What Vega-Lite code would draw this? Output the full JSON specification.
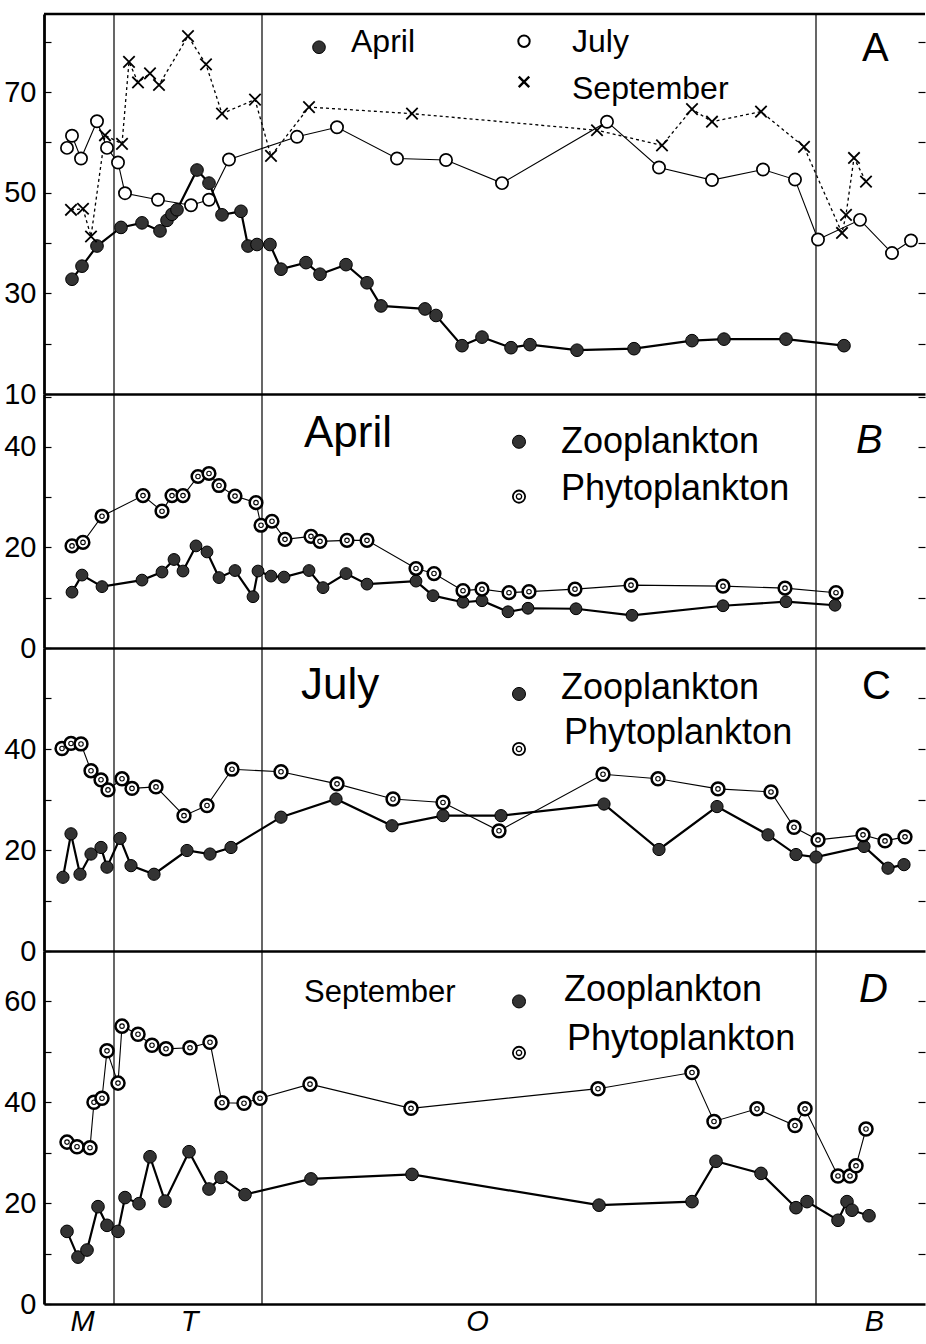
{
  "$schema": "https://vega.github.io/schema/vega-lite/v6.json",
  "background": "white",
  "padding": {"left": 3, "top": 12, "right": 0, "bottom": 0},
  "spacing": 0,
  "bounds": "flush",
  "config": {
    "view": {"stroke": null},
    "axisLeft": {"domain": true, "domainColor": "black", "domainWidth": 2.8, "ticks": true, "tickColor": "black", "tickWidth": 1.2, "tickSize": -7, "labelFont": "Liberation Sans", "labelFontSize": 29, "labelColor": "black", "labelPadding": 15, "labelOverlap": false, "labelBound": false, "labelFlush": false, "grid": false},
    "axisRight": {"domain": false, "ticks": true, "tickColor": "black", "tickWidth": 1.2, "tickSize": -7, "labels": false, "grid": false},
    "axisBottom": {"domain": true, "domainColor": "black", "domainWidth": 2.5, "ticks": false, "labels": false, "grid": false}
  },
  "datasets": {
    "vl": [{"x": 70}, {"x": 218}, {"x": 772}],
    "one": [{}],
    "pts": [
      {"p": "A", "s": "April", "x": 28, "v": 32.8}, {"p": "A", "s": "April", "x": 38, "v": 35.4}, {"p": "A", "s": "April", "x": 53, "v": 39.4}, {"p": "A", "s": "April", "x": 77, "v": 43.1}, {"p": "A", "s": "April", "x": 98, "v": 44.0}, {"p": "A", "s": "April", "x": 116, "v": 42.4}, {"p": "A", "s": "April", "x": 123, "v": 44.5}, {"p": "A", "s": "April", "x": 128, "v": 45.7}, {"p": "A", "s": "April", "x": 133, "v": 46.6}, {"p": "A", "s": "April", "x": 153, "v": 54.5}, {"p": "A", "s": "April", "x": 165, "v": 51.9}, {"p": "A", "s": "April", "x": 178, "v": 45.6}, {"p": "A", "s": "April", "x": 197, "v": 46.3}, {"p": "A", "s": "April", "x": 204, "v": 39.4}, {"p": "A", "s": "April", "x": 213, "v": 39.7}, {"p": "A", "s": "April", "x": 226, "v": 39.7}, {"p": "A", "s": "April", "x": 237, "v": 34.8}, {"p": "A", "s": "April", "x": 262, "v": 36.1}, {"p": "A", "s": "April", "x": 276, "v": 33.8}, {"p": "A", "s": "April", "x": 302, "v": 35.7}, {"p": "A", "s": "April", "x": 323, "v": 32.1}, {"p": "A", "s": "April", "x": 337, "v": 27.5}, {"p": "A", "s": "April", "x": 381, "v": 26.9}, {"p": "A", "s": "April", "x": 392, "v": 25.6}, {"p": "A", "s": "April", "x": 418, "v": 19.6}, {"p": "A", "s": "April", "x": 438, "v": 21.3}, {"p": "A", "s": "April", "x": 467, "v": 19.2}, {"p": "A", "s": "April", "x": 486, "v": 19.8}, {"p": "A", "s": "April", "x": 533, "v": 18.7}, {"p": "A", "s": "April", "x": 590, "v": 19.0}, {"p": "A", "s": "April", "x": 648, "v": 20.6}, {"p": "A", "s": "April", "x": 680, "v": 20.9}, {"p": "A", "s": "April", "x": 742, "v": 20.9}, {"p": "A", "s": "April", "x": 800, "v": 19.6},
      {"p": "A", "s": "July", "x": 23, "v": 58.9}, {"p": "A", "s": "July", "x": 28, "v": 61.3}, {"p": "A", "s": "July", "x": 37, "v": 56.8}, {"p": "A", "s": "July", "x": 53, "v": 64.2}, {"p": "A", "s": "July", "x": 63, "v": 58.9}, {"p": "A", "s": "July", "x": 74, "v": 56.0}, {"p": "A", "s": "July", "x": 81, "v": 49.9}, {"p": "A", "s": "July", "x": 114, "v": 48.6}, {"p": "A", "s": "July", "x": 147, "v": 47.5}, {"p": "A", "s": "July", "x": 165, "v": 48.6}, {"p": "A", "s": "July", "x": 185, "v": 56.6}, {"p": "A", "s": "July", "x": 253, "v": 61.1}, {"p": "A", "s": "July", "x": 293, "v": 63.0}, {"p": "A", "s": "July", "x": 353, "v": 56.8}, {"p": "A", "s": "July", "x": 402, "v": 56.5}, {"p": "A", "s": "July", "x": 458, "v": 51.9}, {"p": "A", "s": "July", "x": 563, "v": 64.1}, {"p": "A", "s": "July", "x": 615, "v": 55.0}, {"p": "A", "s": "July", "x": 668, "v": 52.5}, {"p": "A", "s": "July", "x": 719, "v": 54.6}, {"p": "A", "s": "July", "x": 751, "v": 52.6}, {"p": "A", "s": "July", "x": 774, "v": 40.7}, {"p": "A", "s": "July", "x": 816, "v": 44.6}, {"p": "A", "s": "July", "x": 848, "v": 38.0}, {"p": "A", "s": "July", "x": 867, "v": 40.5},
      {"p": "A", "s": "September", "x": 27, "v": 46.6}, {"p": "A", "s": "September", "x": 39, "v": 46.8}, {"p": "A", "s": "September", "x": 47, "v": 41.3}, {"p": "A", "s": "September", "x": 61, "v": 61.4}, {"p": "A", "s": "September", "x": 78, "v": 59.7}, {"p": "A", "s": "September", "x": 85, "v": 76.0}, {"p": "A", "s": "September", "x": 94, "v": 71.9}, {"p": "A", "s": "September", "x": 106, "v": 73.7}, {"p": "A", "s": "September", "x": 115, "v": 71.4}, {"p": "A", "s": "September", "x": 144, "v": 81.1}, {"p": "A", "s": "September", "x": 162, "v": 75.5}, {"p": "A", "s": "September", "x": 178, "v": 65.7}, {"p": "A", "s": "September", "x": 211, "v": 68.5}, {"p": "A", "s": "September", "x": 227, "v": 57.3}, {"p": "A", "s": "September", "x": 265, "v": 67.0}, {"p": "A", "s": "September", "x": 368, "v": 65.7}, {"p": "A", "s": "September", "x": 553, "v": 62.4}, {"p": "A", "s": "September", "x": 618, "v": 59.4}, {"p": "A", "s": "September", "x": 648, "v": 66.6}, {"p": "A", "s": "September", "x": 668, "v": 64.1}, {"p": "A", "s": "September", "x": 717, "v": 66.1}, {"p": "A", "s": "September", "x": 760, "v": 59.1}, {"p": "A", "s": "September", "x": 798, "v": 42.0}, {"p": "A", "s": "September", "x": 802, "v": 45.6}, {"p": "A", "s": "September", "x": 810, "v": 56.9}, {"p": "A", "s": "September", "x": 822, "v": 52.2},
      {"p": "B", "s": "Phyto", "x": 28, "v": 20.3}, {"p": "B", "s": "Phyto", "x": 39, "v": 21.0}, {"p": "B", "s": "Phyto", "x": 58, "v": 26.2}, {"p": "B", "s": "Phyto", "x": 99, "v": 30.3}, {"p": "B", "s": "Phyto", "x": 118, "v": 27.2}, {"p": "B", "s": "Phyto", "x": 128, "v": 30.3}, {"p": "B", "s": "Phyto", "x": 139, "v": 30.3}, {"p": "B", "s": "Phyto", "x": 154, "v": 34.1}, {"p": "B", "s": "Phyto", "x": 165, "v": 34.7}, {"p": "B", "s": "Phyto", "x": 175, "v": 32.3}, {"p": "B", "s": "Phyto", "x": 191, "v": 30.2}, {"p": "B", "s": "Phyto", "x": 212, "v": 28.9}, {"p": "B", "s": "Phyto", "x": 217, "v": 24.4}, {"p": "B", "s": "Phyto", "x": 228, "v": 25.2}, {"p": "B", "s": "Phyto", "x": 241, "v": 21.6}, {"p": "B", "s": "Phyto", "x": 267, "v": 22.2}, {"p": "B", "s": "Phyto", "x": 276, "v": 21.2}, {"p": "B", "s": "Phyto", "x": 303, "v": 21.4}, {"p": "B", "s": "Phyto", "x": 323, "v": 21.4}, {"p": "B", "s": "Phyto", "x": 372, "v": 15.8}, {"p": "B", "s": "Phyto", "x": 390, "v": 14.8}, {"p": "B", "s": "Phyto", "x": 419, "v": 11.4}, {"p": "B", "s": "Phyto", "x": 438, "v": 11.7}, {"p": "B", "s": "Phyto", "x": 465, "v": 11.0}, {"p": "B", "s": "Phyto", "x": 485, "v": 11.2}, {"p": "B", "s": "Phyto", "x": 531, "v": 11.7}, {"p": "B", "s": "Phyto", "x": 587, "v": 12.5}, {"p": "B", "s": "Phyto", "x": 679, "v": 12.3}, {"p": "B", "s": "Phyto", "x": 741, "v": 11.9}, {"p": "B", "s": "Phyto", "x": 792, "v": 11.0},
      {"p": "B", "s": "Zoo", "x": 28, "v": 11.1}, {"p": "B", "s": "Zoo", "x": 38, "v": 14.5}, {"p": "B", "s": "Zoo", "x": 58, "v": 12.2}, {"p": "B", "s": "Zoo", "x": 98, "v": 13.5}, {"p": "B", "s": "Zoo", "x": 118, "v": 15.1}, {"p": "B", "s": "Zoo", "x": 130, "v": 17.6}, {"p": "B", "s": "Zoo", "x": 139, "v": 15.3}, {"p": "B", "s": "Zoo", "x": 152, "v": 20.3}, {"p": "B", "s": "Zoo", "x": 163, "v": 19.1}, {"p": "B", "s": "Zoo", "x": 175, "v": 14.0}, {"p": "B", "s": "Zoo", "x": 191, "v": 15.4}, {"p": "B", "s": "Zoo", "x": 209, "v": 10.2}, {"p": "B", "s": "Zoo", "x": 214, "v": 15.3}, {"p": "B", "s": "Zoo", "x": 227, "v": 14.3}, {"p": "B", "s": "Zoo", "x": 240, "v": 14.1}, {"p": "B", "s": "Zoo", "x": 265, "v": 15.4}, {"p": "B", "s": "Zoo", "x": 279, "v": 12.0}, {"p": "B", "s": "Zoo", "x": 302, "v": 14.8}, {"p": "B", "s": "Zoo", "x": 323, "v": 12.7}, {"p": "B", "s": "Zoo", "x": 372, "v": 13.3}, {"p": "B", "s": "Zoo", "x": 389, "v": 10.4}, {"p": "B", "s": "Zoo", "x": 419, "v": 9.1}, {"p": "B", "s": "Zoo", "x": 438, "v": 9.4}, {"p": "B", "s": "Zoo", "x": 464, "v": 7.2}, {"p": "B", "s": "Zoo", "x": 484, "v": 7.9}, {"p": "B", "s": "Zoo", "x": 532, "v": 7.8}, {"p": "B", "s": "Zoo", "x": 588, "v": 6.5}, {"p": "B", "s": "Zoo", "x": 679, "v": 8.4}, {"p": "B", "s": "Zoo", "x": 742, "v": 9.2}, {"p": "B", "s": "Zoo", "x": 791, "v": 8.5},
      {"p": "C", "s": "Phyto", "x": 18, "v": 40.1}, {"p": "C", "s": "Phyto", "x": 27, "v": 41.1}, {"p": "C", "s": "Phyto", "x": 37, "v": 41.0}, {"p": "C", "s": "Phyto", "x": 47, "v": 35.7}, {"p": "C", "s": "Phyto", "x": 57, "v": 33.9}, {"p": "C", "s": "Phyto", "x": 64, "v": 31.9}, {"p": "C", "s": "Phyto", "x": 78, "v": 34.1}, {"p": "C", "s": "Phyto", "x": 88, "v": 32.2}, {"p": "C", "s": "Phyto", "x": 112, "v": 32.5}, {"p": "C", "s": "Phyto", "x": 140, "v": 26.8}, {"p": "C", "s": "Phyto", "x": 163, "v": 28.8}, {"p": "C", "s": "Phyto", "x": 188, "v": 36.0}, {"p": "C", "s": "Phyto", "x": 237, "v": 35.5}, {"p": "C", "s": "Phyto", "x": 293, "v": 33.1}, {"p": "C", "s": "Phyto", "x": 349, "v": 30.1}, {"p": "C", "s": "Phyto", "x": 399, "v": 29.4}, {"p": "C", "s": "Phyto", "x": 455, "v": 23.8}, {"p": "C", "s": "Phyto", "x": 559, "v": 35.0}, {"p": "C", "s": "Phyto", "x": 614, "v": 34.1}, {"p": "C", "s": "Phyto", "x": 674, "v": 32.1}, {"p": "C", "s": "Phyto", "x": 727, "v": 31.5}, {"p": "C", "s": "Phyto", "x": 750, "v": 24.5}, {"p": "C", "s": "Phyto", "x": 774, "v": 22.0}, {"p": "C", "s": "Phyto", "x": 819, "v": 23.0}, {"p": "C", "s": "Phyto", "x": 841, "v": 21.8}, {"p": "C", "s": "Phyto", "x": 861, "v": 22.6},
      {"p": "C", "s": "Zoo", "x": 19, "v": 14.6}, {"p": "C", "s": "Zoo", "x": 27, "v": 23.2}, {"p": "C", "s": "Zoo", "x": 36, "v": 15.2}, {"p": "C", "s": "Zoo", "x": 47, "v": 19.2}, {"p": "C", "s": "Zoo", "x": 57, "v": 20.5}, {"p": "C", "s": "Zoo", "x": 63, "v": 16.6}, {"p": "C", "s": "Zoo", "x": 76, "v": 22.3}, {"p": "C", "s": "Zoo", "x": 87, "v": 16.9}, {"p": "C", "s": "Zoo", "x": 110, "v": 15.2}, {"p": "C", "s": "Zoo", "x": 143, "v": 19.9}, {"p": "C", "s": "Zoo", "x": 166, "v": 19.2}, {"p": "C", "s": "Zoo", "x": 187, "v": 20.5}, {"p": "C", "s": "Zoo", "x": 237, "v": 26.5}, {"p": "C", "s": "Zoo", "x": 292, "v": 30.1}, {"p": "C", "s": "Zoo", "x": 348, "v": 24.8}, {"p": "C", "s": "Zoo", "x": 399, "v": 26.8}, {"p": "C", "s": "Zoo", "x": 457, "v": 26.8}, {"p": "C", "s": "Zoo", "x": 560, "v": 29.1}, {"p": "C", "s": "Zoo", "x": 615, "v": 20.1}, {"p": "C", "s": "Zoo", "x": 673, "v": 28.6}, {"p": "C", "s": "Zoo", "x": 724, "v": 23.0}, {"p": "C", "s": "Zoo", "x": 752, "v": 19.1}, {"p": "C", "s": "Zoo", "x": 772, "v": 18.6}, {"p": "C", "s": "Zoo", "x": 820, "v": 20.7}, {"p": "C", "s": "Zoo", "x": 844, "v": 16.4}, {"p": "C", "s": "Zoo", "x": 860, "v": 17.1},
      {"p": "D", "s": "Phyto", "x": 23, "v": 32.1}, {"p": "D", "s": "Phyto", "x": 33, "v": 31.2}, {"p": "D", "s": "Phyto", "x": 46, "v": 31.0}, {"p": "D", "s": "Phyto", "x": 50, "v": 40.0}, {"p": "D", "s": "Phyto", "x": 58, "v": 40.8}, {"p": "D", "s": "Phyto", "x": 63, "v": 50.2}, {"p": "D", "s": "Phyto", "x": 74, "v": 43.8}, {"p": "D", "s": "Phyto", "x": 78, "v": 55.1}, {"p": "D", "s": "Phyto", "x": 94, "v": 53.5}, {"p": "D", "s": "Phyto", "x": 108, "v": 51.3}, {"p": "D", "s": "Phyto", "x": 122, "v": 50.6}, {"p": "D", "s": "Phyto", "x": 146, "v": 50.8}, {"p": "D", "s": "Phyto", "x": 166, "v": 51.9}, {"p": "D", "s": "Phyto", "x": 178, "v": 39.9}, {"p": "D", "s": "Phyto", "x": 200, "v": 39.8}, {"p": "D", "s": "Phyto", "x": 216, "v": 40.8}, {"p": "D", "s": "Phyto", "x": 266, "v": 43.6}, {"p": "D", "s": "Phyto", "x": 367, "v": 38.8}, {"p": "D", "s": "Phyto", "x": 554, "v": 42.7}, {"p": "D", "s": "Phyto", "x": 648, "v": 45.9}, {"p": "D", "s": "Phyto", "x": 670, "v": 36.2}, {"p": "D", "s": "Phyto", "x": 713, "v": 38.7}, {"p": "D", "s": "Phyto", "x": 751, "v": 35.4}, {"p": "D", "s": "Phyto", "x": 761, "v": 38.7}, {"p": "D", "s": "Phyto", "x": 794, "v": 25.4}, {"p": "D", "s": "Phyto", "x": 806, "v": 25.4}, {"p": "D", "s": "Phyto", "x": 812, "v": 27.4}, {"p": "D", "s": "Phyto", "x": 822, "v": 34.7},
      {"p": "D", "s": "Zoo", "x": 23, "v": 14.4}, {"p": "D", "s": "Zoo", "x": 34, "v": 9.3}, {"p": "D", "s": "Zoo", "x": 43, "v": 10.7}, {"p": "D", "s": "Zoo", "x": 54, "v": 19.3}, {"p": "D", "s": "Zoo", "x": 63, "v": 15.6}, {"p": "D", "s": "Zoo", "x": 74, "v": 14.4}, {"p": "D", "s": "Zoo", "x": 81, "v": 21.1}, {"p": "D", "s": "Zoo", "x": 95, "v": 19.9}, {"p": "D", "s": "Zoo", "x": 106, "v": 29.2}, {"p": "D", "s": "Zoo", "x": 121, "v": 20.4}, {"p": "D", "s": "Zoo", "x": 145, "v": 30.2}, {"p": "D", "s": "Zoo", "x": 165, "v": 22.8}, {"p": "D", "s": "Zoo", "x": 177, "v": 25.1}, {"p": "D", "s": "Zoo", "x": 201, "v": 21.7}, {"p": "D", "s": "Zoo", "x": 267, "v": 24.8}, {"p": "D", "s": "Zoo", "x": 368, "v": 25.7}, {"p": "D", "s": "Zoo", "x": 555, "v": 19.6}, {"p": "D", "s": "Zoo", "x": 648, "v": 20.3}, {"p": "D", "s": "Zoo", "x": 672, "v": 28.3}, {"p": "D", "s": "Zoo", "x": 717, "v": 25.9}, {"p": "D", "s": "Zoo", "x": 752, "v": 19.1}, {"p": "D", "s": "Zoo", "x": 763, "v": 20.3}, {"p": "D", "s": "Zoo", "x": 794, "v": 16.6}, {"p": "D", "s": "Zoo", "x": 803, "v": 20.3}, {"p": "D", "s": "Zoo", "x": 808, "v": 18.6}, {"p": "D", "s": "Zoo", "x": 825, "v": 17.5}
    ],
    "leg": [
      {"p": "A", "k": "dot", "x": 275, "v": 78.9}, {"p": "A", "k": "ring", "x": 480, "v": 80.1}, {"p": "A", "k": "cross", "x": 480, "v": 72.0},
      {"p": "B", "k": "dot", "x": 475, "v": 41.0}, {"p": "B", "k": "dring", "x": 475, "v": 30.1},
      {"p": "C", "k": "dot", "x": 475, "v": 50.9}, {"p": "C", "k": "dring", "x": 475, "v": 40.0},
      {"p": "D", "k": "dot", "x": 475, "v": 60.0}, {"p": "D", "k": "dring", "x": 475, "v": 49.8}
    ],
    "txt": [
      {"p": "A", "k": "sml", "x": 307, "v": 77.9, "t": "April"}, {"p": "A", "k": "sml", "x": 528, "v": 77.9, "t": "July"}, {"p": "A", "k": "sml", "x": 528, "v": 68.6, "t": "September"}, {"p": "A", "k": "let", "x": 818, "v": 76.1, "t": "A"},
      {"p": "B", "k": "big", "x": 260, "v": 40.0, "t": "April"}, {"p": "B", "k": "mid", "x": 517, "v": 38.8, "t": "Zooplankton"}, {"p": "B", "k": "mid", "x": 517, "v": 29.5, "t": "Phytoplankton"}, {"p": "B", "k": "let", "x": 812, "v": 38.8, "t": "B"},
      {"p": "C", "k": "big", "x": 257, "v": 49.9, "t": "July"}, {"p": "C", "k": "mid", "x": 517, "v": 49.9, "t": "Zooplankton"}, {"p": "C", "k": "mid", "x": 520, "v": 41.0, "t": "Phytoplankton"}, {"p": "C", "k": "let", "x": 818, "v": 49.9, "t": "C"},
      {"p": "D", "k": "sml", "x": 260, "v": 59.8, "t": "September"}, {"p": "D", "k": "mid", "x": 520, "v": 60.0, "t": "Zooplankton"}, {"p": "D", "k": "mid", "x": 523, "v": 50.4, "t": "Phytoplankton"}, {"p": "D", "k": "let", "x": 815, "v": 59.8, "t": "D"}
    ]
  },
  "vconcat": [
    {
      "width": 881, "height": 380,
      "resolve": {"axis": {"x": "independent", "y": "independent"}},
      "layer": [
        {"data": {"name": "vl"}, "mark": {"type": "rule", "color": "black", "strokeWidth": 1.2}, "encoding": {"x": {"field": "x", "type": "quantitative", "scale": {"domain": [0, 881], "nice": false, "zero": false}, "axis": {"orient": "bottom", "title": null}}}},
        {"data": {"name": "one"}, "mark": {"type": "rule", "color": "black", "strokeWidth": 2.5}, "encoding": {"y": {"datum": 85.5, "type": "quantitative", "scale": {"domain": [10, 85.5], "nice": false, "zero": false}, "axis": null}}},
        {"data": {"name": "pts"}, "transform": [{"filter": "datum.p=='A' && datum.s=='April'"}], "mark": {"type": "line", "color": "black", "strokeWidth": 2.2}, "encoding": {"x": {"field": "x", "type": "quantitative", "scale": {"domain": [0, 881], "nice": false, "zero": false}, "axis": null}, "y": {"field": "v", "type": "quantitative", "scale": {"domain": [10, 85.5], "nice": false, "zero": false}, "axis": {"orient": "left", "title": null, "values": [10, 20, 30, 40, 50, 60, 70, 80], "labelExpr": "(datum.value - 10) % 20 == 0 ? datum.label : ''"}}}},
        {"data": {"name": "pts"}, "transform": [{"filter": "datum.p=='A' && datum.s=='July'"}], "mark": {"type": "line", "color": "black", "strokeWidth": 1.1}, "encoding": {"x": {"field": "x", "type": "quantitative", "scale": {"domain": [0, 881], "nice": false, "zero": false}, "axis": null}, "y": {"field": "v", "type": "quantitative", "scale": {"domain": [10, 85.5], "nice": false, "zero": false}, "axis": null}}},
        {"data": {"name": "pts"}, "transform": [{"filter": "datum.p=='A' && datum.s=='September'"}], "mark": {"type": "line", "color": "black", "strokeWidth": 1.3, "strokeDash": [3, 3]}, "encoding": {"x": {"field": "x", "type": "quantitative", "scale": {"domain": [0, 881], "nice": false, "zero": false}, "axis": null}, "y": {"field": "v", "type": "quantitative", "scale": {"domain": [10, 85.5], "nice": false, "zero": false}, "axis": null}}},
        {"data": {"name": "pts"}, "transform": [{"filter": "datum.p=='A' && datum.s=='April'"}], "mark": {"type": "point", "shape": "circle", "size": 160, "fill": "#333333", "stroke": "black", "strokeWidth": 1, "opacity": 1}, "encoding": {"x": {"field": "x", "type": "quantitative", "scale": {"domain": [0, 881], "nice": false, "zero": false}, "axis": null}, "y": {"field": "v", "type": "quantitative", "scale": {"domain": [10, 85.5], "nice": false, "zero": false}, "axis": {"orient": "right", "title": null, "values": [20, 30, 40, 50, 60, 70, 80]}}}},
        {"data": {"name": "pts"}, "transform": [{"filter": "datum.p=='A' && datum.s=='July'"}], "mark": {"type": "point", "shape": "circle", "size": 150, "fill": "white", "stroke": "black", "strokeWidth": 1.7, "opacity": 1}, "encoding": {"x": {"field": "x", "type": "quantitative", "scale": {"domain": [0, 881], "nice": false, "zero": false}, "axis": null}, "y": {"field": "v", "type": "quantitative", "scale": {"domain": [10, 85.5], "nice": false, "zero": false}, "axis": null}}},
        {"data": {"name": "pts"}, "transform": [{"filter": "datum.p=='A' && datum.s=='September'"}], "mark": {"type": "point", "shape": "M-1,-1L1,1M-1,1L1,-1", "size": 130, "filled": false, "stroke": "black", "strokeWidth": 1.8, "opacity": 1}, "encoding": {"x": {"field": "x", "type": "quantitative", "scale": {"domain": [0, 881], "nice": false, "zero": false}, "axis": null}, "y": {"field": "v", "type": "quantitative", "scale": {"domain": [10, 85.5], "nice": false, "zero": false}, "axis": null}}},
        {"data": {"name": "leg"}, "transform": [{"filter": "datum.p=='A' && datum.k=='dot'"}], "mark": {"type": "point", "shape": "circle", "size": 160, "fill": "#333333", "stroke": "black", "strokeWidth": 1, "opacity": 1}, "encoding": {"x": {"field": "x", "type": "quantitative", "scale": {"domain": [0, 881], "nice": false, "zero": false}, "axis": null}, "y": {"field": "v", "type": "quantitative", "scale": {"domain": [10, 85.5], "nice": false, "zero": false}, "axis": null}}},
        {"data": {"name": "leg"}, "transform": [{"filter": "datum.p=='A' && datum.k=='ring'"}], "mark": {"type": "point", "shape": "circle", "size": 130, "fill": "white", "stroke": "black", "strokeWidth": 2, "opacity": 1}, "encoding": {"x": {"field": "x", "type": "quantitative", "scale": {"domain": [0, 881], "nice": false, "zero": false}, "axis": null}, "y": {"field": "v", "type": "quantitative", "scale": {"domain": [10, 85.5], "nice": false, "zero": false}, "axis": null}}},
        {"data": {"name": "leg"}, "transform": [{"filter": "datum.p=='A' && datum.k=='cross'"}], "mark": {"type": "point", "shape": "M-1,-1L1,1M-1,1L1,-1", "size": 110, "filled": false, "stroke": "black", "strokeWidth": 2.4, "opacity": 1}, "encoding": {"x": {"field": "x", "type": "quantitative", "scale": {"domain": [0, 881], "nice": false, "zero": false}, "axis": null}, "y": {"field": "v", "type": "quantitative", "scale": {"domain": [10, 85.5], "nice": false, "zero": false}, "axis": null}}},
        {"data": {"name": "txt"}, "transform": [{"filter": "datum.p=='A' && datum.k=='sml'"}], "mark": {"type": "text", "align": "left", "baseline": "alphabetic", "font": "Liberation Sans", "fontSize": 32, "color": "black"}, "encoding": {"x": {"field": "x", "type": "quantitative", "scale": {"domain": [0, 881], "nice": false, "zero": false}, "axis": null}, "y": {"field": "v", "type": "quantitative", "scale": {"domain": [10, 85.5], "nice": false, "zero": false}, "axis": null}, "text": {"field": "t"}}},
        {"data": {"name": "txt"}, "transform": [{"filter": "datum.p=='A' && datum.k=='let'"}], "mark": {"type": "text", "align": "left", "baseline": "alphabetic", "font": "Liberation Sans", "fontSize": 40, "color": "black"}, "encoding": {"x": {"field": "x", "type": "quantitative", "scale": {"domain": [0, 881], "nice": false, "zero": false}, "axis": null}, "y": {"field": "v", "type": "quantitative", "scale": {"domain": [10, 85.5], "nice": false, "zero": false}, "axis": null}, "text": {"field": "t"}}}
      ]
    },
    {
      "width": 881, "height": 254,
      "resolve": {"axis": {"x": "independent", "y": "independent"}},
      "layer": [
        {"data": {"name": "vl"}, "mark": {"type": "rule", "color": "black", "strokeWidth": 1.2}, "encoding": {"x": {"field": "x", "type": "quantitative", "scale": {"domain": [0, 881], "nice": false, "zero": false}, "axis": {"orient": "bottom", "title": null}}}},
        {"data": {"name": "pts"}, "transform": [{"filter": "datum.p=='B' && datum.s=='Zoo'"}], "mark": {"type": "line", "color": "black", "strokeWidth": 2.2}, "encoding": {"x": {"field": "x", "type": "quantitative", "scale": {"domain": [0, 881], "nice": false, "zero": false}, "axis": null}, "y": {"field": "v", "type": "quantitative", "scale": {"domain": [0, 50.5], "nice": false, "zero": false}, "axis": {"orient": "left", "title": null, "values": [0, 10, 20, 30, 40, 50], "labelExpr": "datum.value % 20 == 0 ? datum.label : ''"}}}},
        {"data": {"name": "pts"}, "transform": [{"filter": "datum.p=='B' && datum.s=='Phyto'"}], "mark": {"type": "line", "color": "black", "strokeWidth": 1.1}, "encoding": {"x": {"field": "x", "type": "quantitative", "scale": {"domain": [0, 881], "nice": false, "zero": false}, "axis": null}, "y": {"field": "v", "type": "quantitative", "scale": {"domain": [0, 50.5], "nice": false, "zero": false}, "axis": null}}},
        {"data": {"name": "pts"}, "transform": [{"filter": "datum.p=='B' && datum.s=='Zoo'"}], "mark": {"type": "point", "shape": "circle", "size": 140, "fill": "#333333", "stroke": "black", "strokeWidth": 1, "opacity": 1}, "encoding": {"x": {"field": "x", "type": "quantitative", "scale": {"domain": [0, 881], "nice": false, "zero": false}, "axis": null}, "y": {"field": "v", "type": "quantitative", "scale": {"domain": [0, 50.5], "nice": false, "zero": false}, "axis": {"orient": "right", "title": null, "values": [10, 20, 30, 40, 50]}}}},
        {"data": {"name": "pts"}, "transform": [{"filter": "datum.p=='B' && datum.s=='Phyto'"}], "mark": {"type": "point", "shape": "circle", "size": 160, "fill": "white", "stroke": "black", "strokeWidth": 2.5, "opacity": 1}, "encoding": {"x": {"field": "x", "type": "quantitative", "scale": {"domain": [0, 881], "nice": false, "zero": false}, "axis": null}, "y": {"field": "v", "type": "quantitative", "scale": {"domain": [0, 50.5], "nice": false, "zero": false}, "axis": null}}},
        {"data": {"name": "pts"}, "transform": [{"filter": "datum.p=='B' && datum.s=='Phyto'"}], "mark": {"type": "point", "shape": "circle", "size": 20, "filled": false, "stroke": "black", "strokeWidth": 1.1, "opacity": 1}, "encoding": {"x": {"field": "x", "type": "quantitative", "scale": {"domain": [0, 881], "nice": false, "zero": false}, "axis": null}, "y": {"field": "v", "type": "quantitative", "scale": {"domain": [0, 50.5], "nice": false, "zero": false}, "axis": null}}},
        {"data": {"name": "leg"}, "transform": [{"filter": "datum.p=='B' && datum.k=='dot'"}], "mark": {"type": "point", "shape": "circle", "size": 170, "fill": "#333333", "stroke": "black", "strokeWidth": 1, "opacity": 1}, "encoding": {"x": {"field": "x", "type": "quantitative", "scale": {"domain": [0, 881], "nice": false, "zero": false}, "axis": null}, "y": {"field": "v", "type": "quantitative", "scale": {"domain": [0, 50.5], "nice": false, "zero": false}, "axis": null}}},
        {"data": {"name": "leg"}, "transform": [{"filter": "datum.p=='B' && datum.k=='dring'"}], "mark": {"type": "point", "shape": "circle", "size": 150, "fill": "white", "stroke": "black", "strokeWidth": 1.8, "opacity": 1}, "encoding": {"x": {"field": "x", "type": "quantitative", "scale": {"domain": [0, 881], "nice": false, "zero": false}, "axis": null}, "y": {"field": "v", "type": "quantitative", "scale": {"domain": [0, 50.5], "nice": false, "zero": false}, "axis": null}}},
        {"data": {"name": "leg"}, "transform": [{"filter": "datum.p=='B' && datum.k=='dring'"}], "mark": {"type": "point", "shape": "circle", "size": 28, "filled": false, "stroke": "black", "strokeWidth": 1.3, "opacity": 1}, "encoding": {"x": {"field": "x", "type": "quantitative", "scale": {"domain": [0, 881], "nice": false, "zero": false}, "axis": null}, "y": {"field": "v", "type": "quantitative", "scale": {"domain": [0, 50.5], "nice": false, "zero": false}, "axis": null}}},
        {"data": {"name": "txt"}, "transform": [{"filter": "datum.p=='B' && datum.k=='big'"}], "mark": {"type": "text", "align": "left", "baseline": "alphabetic", "font": "Liberation Sans", "fontSize": 44, "color": "black"}, "encoding": {"x": {"field": "x", "type": "quantitative", "scale": {"domain": [0, 881], "nice": false, "zero": false}, "axis": null}, "y": {"field": "v", "type": "quantitative", "scale": {"domain": [0, 50.5], "nice": false, "zero": false}, "axis": null}, "text": {"field": "t"}}},
        {"data": {"name": "txt"}, "transform": [{"filter": "datum.p=='B' && datum.k=='mid'"}], "mark": {"type": "text", "align": "left", "baseline": "alphabetic", "font": "Liberation Sans", "fontSize": 36, "color": "black"}, "encoding": {"x": {"field": "x", "type": "quantitative", "scale": {"domain": [0, 881], "nice": false, "zero": false}, "axis": null}, "y": {"field": "v", "type": "quantitative", "scale": {"domain": [0, 50.5], "nice": false, "zero": false}, "axis": null}, "text": {"field": "t"}}},
        {"data": {"name": "txt"}, "transform": [{"filter": "datum.p=='B' && datum.k=='let'"}], "mark": {"type": "text", "align": "left", "baseline": "alphabetic", "font": "Liberation Sans", "fontSize": 40, "fontStyle": "italic", "color": "black"}, "encoding": {"x": {"field": "x", "type": "quantitative", "scale": {"domain": [0, 881], "nice": false, "zero": false}, "axis": null}, "y": {"field": "v", "type": "quantitative", "scale": {"domain": [0, 50.5], "nice": false, "zero": false}, "axis": null}, "text": {"field": "t"}}}
      ]
    },
    {
      "width": 881, "height": 303,
      "resolve": {"axis": {"x": "independent", "y": "independent"}},
      "layer": [
        {"data": {"name": "vl"}, "mark": {"type": "rule", "color": "black", "strokeWidth": 1.2}, "encoding": {"x": {"field": "x", "type": "quantitative", "scale": {"domain": [0, 881], "nice": false, "zero": false}, "axis": {"orient": "bottom", "title": null}}}},
        {"data": {"name": "pts"}, "transform": [{"filter": "datum.p=='C' && datum.s=='Zoo'"}], "mark": {"type": "line", "color": "black", "strokeWidth": 2.2}, "encoding": {"x": {"field": "x", "type": "quantitative", "scale": {"domain": [0, 881], "nice": false, "zero": false}, "axis": null}, "y": {"field": "v", "type": "quantitative", "scale": {"domain": [0, 60], "nice": false, "zero": false}, "axis": {"orient": "left", "title": null, "values": [0, 10, 20, 30, 40, 50], "labelExpr": "datum.value % 20 == 0 ? datum.label : ''"}}}},
        {"data": {"name": "pts"}, "transform": [{"filter": "datum.p=='C' && datum.s=='Phyto'"}], "mark": {"type": "line", "color": "black", "strokeWidth": 1.1}, "encoding": {"x": {"field": "x", "type": "quantitative", "scale": {"domain": [0, 881], "nice": false, "zero": false}, "axis": null}, "y": {"field": "v", "type": "quantitative", "scale": {"domain": [0, 60], "nice": false, "zero": false}, "axis": null}}},
        {"data": {"name": "pts"}, "transform": [{"filter": "datum.p=='C' && datum.s=='Zoo'"}], "mark": {"type": "point", "shape": "circle", "size": 150, "fill": "#333333", "stroke": "black", "strokeWidth": 1, "opacity": 1}, "encoding": {"x": {"field": "x", "type": "quantitative", "scale": {"domain": [0, 881], "nice": false, "zero": false}, "axis": null}, "y": {"field": "v", "type": "quantitative", "scale": {"domain": [0, 60], "nice": false, "zero": false}, "axis": {"orient": "right", "title": null, "values": [10, 20, 30, 40, 50]}}}},
        {"data": {"name": "pts"}, "transform": [{"filter": "datum.p=='C' && datum.s=='Phyto'"}], "mark": {"type": "point", "shape": "circle", "size": 165, "fill": "white", "stroke": "black", "strokeWidth": 2.5, "opacity": 1}, "encoding": {"x": {"field": "x", "type": "quantitative", "scale": {"domain": [0, 881], "nice": false, "zero": false}, "axis": null}, "y": {"field": "v", "type": "quantitative", "scale": {"domain": [0, 60], "nice": false, "zero": false}, "axis": null}}},
        {"data": {"name": "pts"}, "transform": [{"filter": "datum.p=='C' && datum.s=='Phyto'"}], "mark": {"type": "point", "shape": "circle", "size": 20, "filled": false, "stroke": "black", "strokeWidth": 1.1, "opacity": 1}, "encoding": {"x": {"field": "x", "type": "quantitative", "scale": {"domain": [0, 881], "nice": false, "zero": false}, "axis": null}, "y": {"field": "v", "type": "quantitative", "scale": {"domain": [0, 60], "nice": false, "zero": false}, "axis": null}}},
        {"data": {"name": "leg"}, "transform": [{"filter": "datum.p=='C' && datum.k=='dot'"}], "mark": {"type": "point", "shape": "circle", "size": 170, "fill": "#333333", "stroke": "black", "strokeWidth": 1, "opacity": 1}, "encoding": {"x": {"field": "x", "type": "quantitative", "scale": {"domain": [0, 881], "nice": false, "zero": false}, "axis": null}, "y": {"field": "v", "type": "quantitative", "scale": {"domain": [0, 60], "nice": false, "zero": false}, "axis": null}}},
        {"data": {"name": "leg"}, "transform": [{"filter": "datum.p=='C' && datum.k=='dring'"}], "mark": {"type": "point", "shape": "circle", "size": 150, "fill": "white", "stroke": "black", "strokeWidth": 1.8, "opacity": 1}, "encoding": {"x": {"field": "x", "type": "quantitative", "scale": {"domain": [0, 881], "nice": false, "zero": false}, "axis": null}, "y": {"field": "v", "type": "quantitative", "scale": {"domain": [0, 60], "nice": false, "zero": false}, "axis": null}}},
        {"data": {"name": "leg"}, "transform": [{"filter": "datum.p=='C' && datum.k=='dring'"}], "mark": {"type": "point", "shape": "circle", "size": 28, "filled": false, "stroke": "black", "strokeWidth": 1.3, "opacity": 1}, "encoding": {"x": {"field": "x", "type": "quantitative", "scale": {"domain": [0, 881], "nice": false, "zero": false}, "axis": null}, "y": {"field": "v", "type": "quantitative", "scale": {"domain": [0, 60], "nice": false, "zero": false}, "axis": null}}},
        {"data": {"name": "txt"}, "transform": [{"filter": "datum.p=='C' && datum.k=='big'"}], "mark": {"type": "text", "align": "left", "baseline": "alphabetic", "font": "Liberation Sans", "fontSize": 44, "color": "black"}, "encoding": {"x": {"field": "x", "type": "quantitative", "scale": {"domain": [0, 881], "nice": false, "zero": false}, "axis": null}, "y": {"field": "v", "type": "quantitative", "scale": {"domain": [0, 60], "nice": false, "zero": false}, "axis": null}, "text": {"field": "t"}}},
        {"data": {"name": "txt"}, "transform": [{"filter": "datum.p=='C' && datum.k=='mid'"}], "mark": {"type": "text", "align": "left", "baseline": "alphabetic", "font": "Liberation Sans", "fontSize": 36, "color": "black"}, "encoding": {"x": {"field": "x", "type": "quantitative", "scale": {"domain": [0, 881], "nice": false, "zero": false}, "axis": null}, "y": {"field": "v", "type": "quantitative", "scale": {"domain": [0, 60], "nice": false, "zero": false}, "axis": null}, "text": {"field": "t"}}},
        {"data": {"name": "txt"}, "transform": [{"filter": "datum.p=='C' && datum.k=='let'"}], "mark": {"type": "text", "align": "left", "baseline": "alphabetic", "font": "Liberation Sans", "fontSize": 40, "color": "black"}, "encoding": {"x": {"field": "x", "type": "quantitative", "scale": {"domain": [0, 881], "nice": false, "zero": false}, "axis": null}, "y": {"field": "v", "type": "quantitative", "scale": {"domain": [0, 60], "nice": false, "zero": false}, "axis": null}, "text": {"field": "t"}}}
      ]
    },
    {
      "width": 881, "height": 353,
      "resolve": {"axis": {"x": "independent", "y": "independent"}},
      "layer": [
        {"data": {"name": "vl"}, "mark": {"type": "rule", "color": "black", "strokeWidth": 1.2}, "encoding": {"x": {"field": "x", "type": "quantitative", "scale": {"domain": [0, 881], "nice": false, "zero": false}, "axis": {"orient": "bottom", "title": null, "labels": true, "values": [38, 145, 433, 830], "labelExpr": "datum.value == 38 ? 'M' : datum.value == 145 ? 'T' : datum.value == 433 ? 'O' : 'B'", "labelFont": "Liberation Sans", "labelFontStyle": "italic", "labelFontSize": 29, "labelColor": "black", "labelPadding": 3, "labelFlush": false, "labelOverlap": false, "labelBaseline": "top"}}}},
        {"data": {"name": "pts"}, "transform": [{"filter": "datum.p=='D' && datum.s=='Zoo'"}], "mark": {"type": "line", "color": "black", "strokeWidth": 2.2}, "encoding": {"x": {"field": "x", "type": "quantitative", "scale": {"domain": [0, 881], "nice": false, "zero": false}, "axis": null}, "y": {"field": "v", "type": "quantitative", "scale": {"domain": [0, 70], "nice": false, "zero": false}, "axis": {"orient": "left", "title": null, "values": [0, 10, 20, 30, 40, 50, 60], "labelExpr": "datum.value % 20 == 0 ? datum.label : ''"}}}},
        {"data": {"name": "pts"}, "transform": [{"filter": "datum.p=='D' && datum.s=='Phyto'"}], "mark": {"type": "line", "color": "black", "strokeWidth": 1.1}, "encoding": {"x": {"field": "x", "type": "quantitative", "scale": {"domain": [0, 881], "nice": false, "zero": false}, "axis": null}, "y": {"field": "v", "type": "quantitative", "scale": {"domain": [0, 70], "nice": false, "zero": false}, "axis": null}}},
        {"data": {"name": "pts"}, "transform": [{"filter": "datum.p=='D' && datum.s=='Zoo'"}], "mark": {"type": "point", "shape": "circle", "size": 160, "fill": "#333333", "stroke": "black", "strokeWidth": 1, "opacity": 1}, "encoding": {"x": {"field": "x", "type": "quantitative", "scale": {"domain": [0, 881], "nice": false, "zero": false}, "axis": null}, "y": {"field": "v", "type": "quantitative", "scale": {"domain": [0, 70], "nice": false, "zero": false}, "axis": {"orient": "right", "title": null, "values": [10, 20, 30, 40, 50, 60]}}}},
        {"data": {"name": "pts"}, "transform": [{"filter": "datum.p=='D' && datum.s=='Phyto'"}], "mark": {"type": "point", "shape": "circle", "size": 170, "fill": "white", "stroke": "black", "strokeWidth": 2.5, "opacity": 1}, "encoding": {"x": {"field": "x", "type": "quantitative", "scale": {"domain": [0, 881], "nice": false, "zero": false}, "axis": null}, "y": {"field": "v", "type": "quantitative", "scale": {"domain": [0, 70], "nice": false, "zero": false}, "axis": null}}},
        {"data": {"name": "pts"}, "transform": [{"filter": "datum.p=='D' && datum.s=='Phyto'"}], "mark": {"type": "point", "shape": "circle", "size": 20, "filled": false, "stroke": "black", "strokeWidth": 1.1, "opacity": 1}, "encoding": {"x": {"field": "x", "type": "quantitative", "scale": {"domain": [0, 881], "nice": false, "zero": false}, "axis": null}, "y": {"field": "v", "type": "quantitative", "scale": {"domain": [0, 70], "nice": false, "zero": false}, "axis": null}}},
        {"data": {"name": "leg"}, "transform": [{"filter": "datum.p=='D' && datum.k=='dot'"}], "mark": {"type": "point", "shape": "circle", "size": 170, "fill": "#333333", "stroke": "black", "strokeWidth": 1, "opacity": 1}, "encoding": {"x": {"field": "x", "type": "quantitative", "scale": {"domain": [0, 881], "nice": false, "zero": false}, "axis": null}, "y": {"field": "v", "type": "quantitative", "scale": {"domain": [0, 70], "nice": false, "zero": false}, "axis": null}}},
        {"data": {"name": "leg"}, "transform": [{"filter": "datum.p=='D' && datum.k=='dring'"}], "mark": {"type": "point", "shape": "circle", "size": 150, "fill": "white", "stroke": "black", "strokeWidth": 1.8, "opacity": 1}, "encoding": {"x": {"field": "x", "type": "quantitative", "scale": {"domain": [0, 881], "nice": false, "zero": false}, "axis": null}, "y": {"field": "v", "type": "quantitative", "scale": {"domain": [0, 70], "nice": false, "zero": false}, "axis": null}}},
        {"data": {"name": "leg"}, "transform": [{"filter": "datum.p=='D' && datum.k=='dring'"}], "mark": {"type": "point", "shape": "circle", "size": 28, "filled": false, "stroke": "black", "strokeWidth": 1.3, "opacity": 1}, "encoding": {"x": {"field": "x", "type": "quantitative", "scale": {"domain": [0, 881], "nice": false, "zero": false}, "axis": null}, "y": {"field": "v", "type": "quantitative", "scale": {"domain": [0, 70], "nice": false, "zero": false}, "axis": null}}},
        {"data": {"name": "txt"}, "transform": [{"filter": "datum.p=='D' && datum.k=='sml'"}], "mark": {"type": "text", "align": "left", "baseline": "alphabetic", "font": "Liberation Sans", "fontSize": 31, "color": "black"}, "encoding": {"x": {"field": "x", "type": "quantitative", "scale": {"domain": [0, 881], "nice": false, "zero": false}, "axis": null}, "y": {"field": "v", "type": "quantitative", "scale": {"domain": [0, 70], "nice": false, "zero": false}, "axis": null}, "text": {"field": "t"}}},
        {"data": {"name": "txt"}, "transform": [{"filter": "datum.p=='D' && datum.k=='mid'"}], "mark": {"type": "text", "align": "left", "baseline": "alphabetic", "font": "Liberation Sans", "fontSize": 36, "color": "black"}, "encoding": {"x": {"field": "x", "type": "quantitative", "scale": {"domain": [0, 881], "nice": false, "zero": false}, "axis": null}, "y": {"field": "v", "type": "quantitative", "scale": {"domain": [0, 70], "nice": false, "zero": false}, "axis": null}, "text": {"field": "t"}}},
        {"data": {"name": "txt"}, "transform": [{"filter": "datum.p=='D' && datum.k=='let'"}], "mark": {"type": "text", "align": "left", "baseline": "alphabetic", "font": "Liberation Sans", "fontSize": 40, "fontStyle": "italic", "color": "black"}, "encoding": {"x": {"field": "x", "type": "quantitative", "scale": {"domain": [0, 881], "nice": false, "zero": false}, "axis": null}, "y": {"field": "v", "type": "quantitative", "scale": {"domain": [0, 70], "nice": false, "zero": false}, "axis": null}, "text": {"field": "t"}}}
      ]
    }
  ]
}
